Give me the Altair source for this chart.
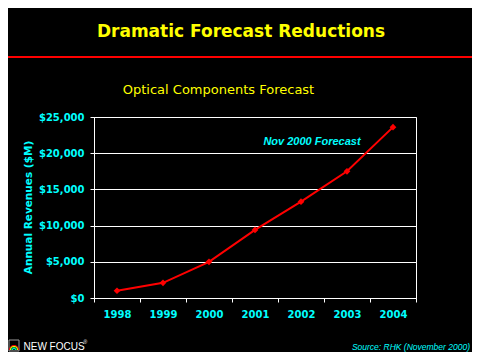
import altair as alt
import pandas as pd

# ---- data ----
years = ["1998", "1999", "2000", "2001", "2002", "2003", "2004"]
revenues = [1000, 2100, 5000, 9400, 13300, 17500, 23600]
y_ticks = [0, 5000, 10000, 15000, 20000, 25000]

title_text = "Dramatic Forecast Reductions"
subtitle_text = "Optical Components Forecast"
y_title_text = "Annual Revenues ($M)"
annotation_text = "Nov 2000 Forecast"
source_text = "Source: RHK  (November 2000)"
logo_text = "NEW FOCUS"

df = pd.DataFrame({"year": years, "revenue": revenues})

CYAN = "#00FFFF"
YELLOW = "#FFFF00"
RED = "#FF0000"

W, H = 322, 181


def one(text):
    return pd.DataFrame({"t": [text]})


line = alt.Chart(df).mark_line(
    color=RED, strokeWidth=2,
    point=alt.OverlayMarkDef(shape="diamond", size=45, filled=True, color=RED),
).encode(
    x=alt.X("year:O", sort=years,
            scale=alt.Scale(type="band", paddingInner=0, paddingOuter=0),
            axis=alt.Axis(title=None, labelAngle=0, tickBand="extent", tickSize=4,
                          labelPadding=7, grid=False, domainColor="white",
                          tickColor="white", labelColor=CYAN, labelFont="DejaVu Sans",
                          labelFontWeight="bold", labelFontSize=10)),
    y=alt.Y("revenue:Q",
            scale=alt.Scale(domain=[0, 25000], nice=False),
            axis=alt.Axis(title=None, values=y_ticks, format="$,.0f", tickSize=4,
                          labelPadding=6, grid=True, gridColor="white", gridWidth=1,
                          domainColor="white", tickColor="white", labelColor=CYAN,
                          labelFont="DejaVu Sans", labelFontWeight="bold", labelFontSize=10)),
)

title = alt.Chart(one(title_text)).mark_text(
    font="DejaVu Sans", fontSize=17, fontWeight="bold", color=YELLOW,
    align="center", baseline="alphabetic",
).encode(text="t:N", x=alt.value(147), y=alt.value(-80))

red_rule = alt.Chart(one("r")).mark_rule(color=RED, strokeWidth=2).encode(
    x=alt.value(-86), x2=alt.value(378), y=alt.value(-60))

subtitle = alt.Chart(one(subtitle_text)).mark_text(
    font="DejaVu Sans", fontSize=13, color=YELLOW, align="center", baseline="alphabetic",
).encode(text="t:N", x=alt.value(124.5), y=alt.value(-23))

y_title = alt.Chart(one(y_title_text)).mark_text(
    font="DejaVu Sans", fontSize=10.5, fontWeight="bold", color=CYAN,
    align="center", baseline="middle", angle=270,
).encode(text="t:N", x=alt.value(-65), y=alt.value(90.5))

annotation = alt.Chart(one(annotation_text)).mark_text(
    font="Liberation Sans", fontSize=11, fontWeight="bold", fontStyle="italic",
    color=CYAN, align="center", baseline="alphabetic",
).encode(text="t:N", x=alt.value(218), y=alt.value(28))

source = alt.Chart(one(source_text)).mark_text(
    font="Liberation Sans", fontSize=8.5, fontStyle="italic", color=CYAN,
    align="right", baseline="alphabetic",
).encode(text="t:N", x=alt.value(376), y=alt.value(233))

logo = alt.Chart(one(logo_text)).mark_text(
    font="Liberation Sans", fontSize=10, color="white", align="left", baseline="alphabetic",
).encode(text="t:N", x=alt.value(-70.5), y=alt.value(233))

reg = alt.Chart(one("®")).mark_text(
    font="Liberation Sans", fontSize=5, color="white", align="left", baseline="alphabetic",
).encode(text="t:N", x=alt.value(-10.5), y=alt.value(227))

logo_box = alt.Chart(one("b")).mark_rect(
    fill="black", stroke="#9a9a9a", strokeWidth=1,
).encode(x=alt.value(-85), x2=alt.value(-75), y=alt.value(223), y2=alt.value(234))

arcs = []
for r_out, col in [(5, RED), (4, YELLOW), (3, "#00C040"), (2, CYAN)]:
    arcs.append(
        alt.Chart(one(col)).mark_arc(
            color=col, radius=r_out, radius2=r_out - 1,
            theta=4.712, theta2=7.854,
        ).encode(x=alt.value(-80), y=alt.value(233))
    )

chart = alt.layer(
    line, title, red_rule, subtitle, y_title, annotation, source,
    logo_box, *arcs, logo, reg,
).properties(
    width=W, height=H,
    autosize=alt.AutoSizeParams(type="none"),
    padding={"left": 86, "top": 109, "right": 56, "bottom": 54},
).configure(
    background="black",
).configure_view(
    stroke="white", strokeWidth=1,
)

chart.save("out.html", embed_options={"renderer": "svg", "actions": False})
